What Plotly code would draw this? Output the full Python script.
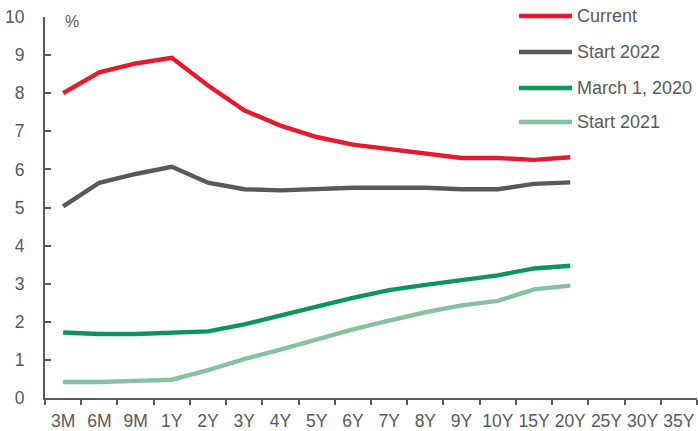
import plotly.graph_objects as go

# Tenor buckets on the horizontal axis
tenors = ["3M", "6M", "9M", "1Y", "2Y", "3Y", "4Y", "5Y", "6Y", "7Y",
          "8Y", "9Y", "10Y", "15Y", "20Y", "25Y", "30Y", "35Y"]

# Yield curves (%), quoted out to 20Y
curve_tenors = tenors[:15]
current = [8.00, 8.55, 8.78, 8.93, 8.20, 7.55, 7.15, 6.85, 6.65, 6.53,
           6.40, 6.30, 6.30, 6.25, 6.32]
start_2022 = [5.03, 5.65, 5.88, 6.07, 5.65, 5.48, 5.45, 5.48, 5.52, 5.52,
              5.52, 5.48, 5.48, 5.62, 5.66]
march_2020 = [1.72, 1.68, 1.68, 1.72, 1.75, 1.93, 2.15, 2.40, 2.63, 2.83,
              2.97, 3.10, 3.22, 3.40, 3.47]
start_2021 = [0.42, 0.42, 0.45, 0.48, 0.73, 1.02, 1.27, 1.55, 1.80, 2.03,
              2.25, 2.43, 2.55, 2.85, 2.95]

series_names = ["Current", "Start 2022", "March 1, 2020", "Start 2021"]
series_values = [current, start_2022, march_2020, start_2021]
series_colors = ["#E8192C", "#595959", "#0B9659", "#86C1A0"]

y_ticks = list(range(0, 11))

FONT = "Liberation Sans, Arial, sans-serif"
TEXT = "#595959"
FS = 17.5

fig = go.Figure()
for name, vals, col in zip(series_names, series_values, series_colors):
    fig.add_trace(go.Scatter(
        x=curve_tenors, y=vals, name=name, mode="lines",
        line=dict(color=col, width=4.4), showlegend=False,
    ))

# Legend drawn as line samples with labels, top right
shapes = []
annotations = []
legend_rows_px = [16, 52, 88, 122]
plot_l, plot_r, plot_t, plot_b = 45, 697, 17, 398
pw, ph = plot_r - plot_l, plot_b - plot_t
for name, col, ypx in zip(series_names, series_colors, legend_rows_px):
    yp = (plot_b - ypx) / ph
    shapes.append(dict(type="line", xref="paper", yref="paper",
                       x0=(519 - plot_l) / pw, x1=(572 - plot_l) / pw,
                       y0=yp, y1=yp,
                       line=dict(color=col, width=4.4)))
    annotations.append(dict(text=name, xref="paper", yref="paper",
                            x=(575 - plot_l) / pw, y=yp,
                            xanchor="left", yanchor="middle",
                            showarrow=False,
                            font=dict(family=FONT, size=18, color=TEXT)))

annotations.append(dict(text="%", xref="paper", yref="paper",
                        x=(63 - plot_l) / pw, y=(plot_b - 21) / ph,
                        xanchor="left", yanchor="middle", showarrow=False,
                        font=dict(family=FONT, size=16, color=TEXT)))

fig.update_layout(
    width=698, height=431,
    margin=dict(l=plot_l, r=698 - plot_r, t=plot_t, b=431 - plot_b),
    paper_bgcolor="white", plot_bgcolor="white",
    font=dict(family=FONT, size=FS, color=TEXT),
    shapes=shapes, annotations=annotations,
    xaxis=dict(
        type="category", categoryorder="array", categoryarray=tenors,
        tickvals=tenors, range=[-0.5, len(tenors) - 0.5],
        tickson="boundaries", ticks="outside", ticklen=5, tickwidth=1.5,
        tickcolor=TEXT, showline=True, linecolor=TEXT, linewidth=2,
        showgrid=False, zeroline=False, ticklabelstandoff=6,
        tickangle=0, automargin=False,
        tickfont=dict(family=FONT, size=FS, color=TEXT),
    ),
    yaxis=dict(
        range=[0, 10], tickvals=y_ticks, ticks="inside", ticklen=6,
        tickwidth=1.5, tickcolor=TEXT, showline=True, linecolor=TEXT,
        linewidth=2, showgrid=False, zeroline=False, ticklabelstandoff=15,
        automargin=False,
        tickfont=dict(family=FONT, size=FS, color=TEXT),
    ),
)

fig.write_html("out.html")
